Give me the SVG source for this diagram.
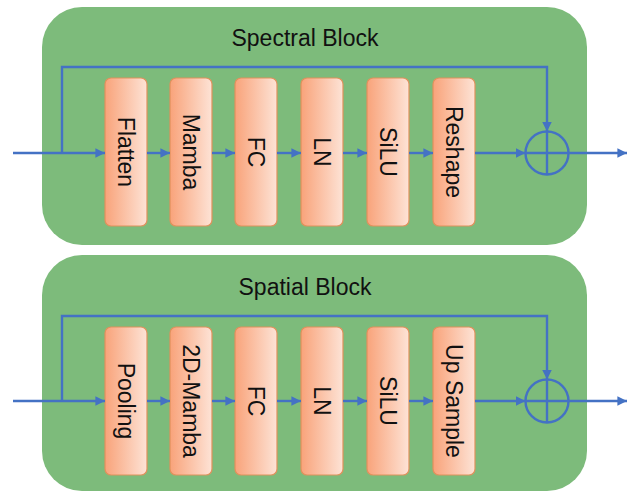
<svg xmlns="http://www.w3.org/2000/svg" width="630" height="491" viewBox="0 0 630 491">
<defs>
<linearGradient id="boxg" x1="0" y1="0" x2="1" y2="0">
<stop offset="0" stop-color="#f9a37a"/>
<stop offset="1" stop-color="#fde3d6"/>
</linearGradient>
<marker id="ah" viewBox="0 0 10 10" refX="10" refY="5" markerWidth="4" markerHeight="4" orient="auto" markerUnits="strokeWidth">
<path d="M0,0 L10,5 L0,10 z" fill="#4472c4"/>
</marker>
</defs>
<style>
.blk{fill:#7dbb7b;}
.box{fill:url(#boxg);stroke:#e0915c;stroke-width:1.2;}
.lbl{font-family:"Liberation Sans",Arial,sans-serif;font-size:23px;fill:#111;}
.ttl{font-family:"Liberation Sans",Arial,sans-serif;font-size:23px;fill:#111;}
.ln{fill:none;stroke:#4472c4;stroke-width:2.4;}
.arr{fill:none;stroke:#4472c4;stroke-width:2.4;marker-end:url(#ah);}
</style>

<g id="spectral-block">
<rect class="blk" x="42" y="7" width="545" height="238" rx="40"/>
<text class="ttl" x="305" y="46" text-anchor="middle">Spectral Block</text>
</g>
<g id="spatial-block">
<rect class="blk" x="42" y="255" width="545" height="236" rx="40"/>
<text class="ttl" x="305" y="295" text-anchor="middle">Spatial Block</text>
</g>

<g id="flatten"><rect class="box" x="105" y="78" width="42" height="148" rx="6"/><text class="lbl" transform="translate(126,152) rotate(90)" text-anchor="middle" dominant-baseline="central">Flatten</text></g>
<g id="mamba"><rect class="box" x="170" y="78" width="42" height="148" rx="6"/><text class="lbl" transform="translate(191,152) rotate(90)" text-anchor="middle" dominant-baseline="central">Mamba</text></g>
<g id="fc1"><rect class="box" x="235" y="78" width="42" height="148" rx="6"/><text class="lbl" transform="translate(256,152) rotate(90)" text-anchor="middle" dominant-baseline="central">FC</text></g>
<g id="ln1"><rect class="box" x="301" y="78" width="42" height="148" rx="6"/><text class="lbl" transform="translate(322,152) rotate(90)" text-anchor="middle" dominant-baseline="central">LN</text></g>
<g id="silu1"><rect class="box" x="367" y="78" width="42" height="148" rx="6"/><text class="lbl" transform="translate(388,152) rotate(90)" text-anchor="middle" dominant-baseline="central">SiLU</text></g>
<g id="reshape"><rect class="box" x="433" y="78" width="42" height="148" rx="6"/><text class="lbl" transform="translate(454,152) rotate(90)" text-anchor="middle" dominant-baseline="central">Reshape</text></g>
<g id="add1"><circle cx="547" cy="153" r="21.5" fill="none" stroke="#4472c4" stroke-width="2.4"/><path class="ln" d="M525.5,153 H568.5 M547,131.5 V174.5"/></g>

<g id="pooling"><rect class="box" x="105" y="327" width="42" height="148" rx="6"/><text class="lbl" transform="translate(126,401) rotate(90)" text-anchor="middle" dominant-baseline="central">Pooling</text></g>
<g id="mamba2d"><rect class="box" x="170" y="327" width="42" height="148" rx="6"/><text class="lbl" transform="translate(191,401) rotate(90)" text-anchor="middle" dominant-baseline="central">2D-Mamba</text></g>
<g id="fc2"><rect class="box" x="235" y="327" width="42" height="148" rx="6"/><text class="lbl" transform="translate(256,401) rotate(90)" text-anchor="middle" dominant-baseline="central">FC</text></g>
<g id="ln2"><rect class="box" x="301" y="327" width="42" height="148" rx="6"/><text class="lbl" transform="translate(322,401) rotate(90)" text-anchor="middle" dominant-baseline="central">LN</text></g>
<g id="silu2"><rect class="box" x="367" y="327" width="42" height="148" rx="6"/><text class="lbl" transform="translate(388,401) rotate(90)" text-anchor="middle" dominant-baseline="central">SiLU</text></g>
<g id="upsample"><rect class="box" x="433" y="327" width="42" height="148" rx="6"/><text class="lbl" transform="translate(454,401) rotate(90)" text-anchor="middle" dominant-baseline="central">Up Sample</text></g>
<g id="add2"><circle cx="547" cy="401" r="21.5" fill="none" stroke="#4472c4" stroke-width="2.4"/><path class="ln" d="M525.5,401 H568.5 M547,379.5 V422.5"/></g>

<g id="connectors">
<path class="arr" d="M13,153 H105"/>
<path class="arr" d="M62,153 V67 H547 V131.5"/>
<path class="arr" d="M147,153 H170"/>
<path class="arr" d="M212,153 H235"/>
<path class="arr" d="M277,153 H301"/>
<path class="arr" d="M343,153 H367"/>
<path class="arr" d="M409,153 H433"/>
<path class="arr" d="M475,153 H525.5"/>
<path class="arr" d="M568.5,153 H627"/>

<path class="arr" d="M13,401 H105"/>
<path class="arr" d="M62,401 V316 H547 V379.5"/>
<path class="arr" d="M147,401 H170"/>
<path class="arr" d="M212,401 H235"/>
<path class="arr" d="M277,401 H301"/>
<path class="arr" d="M343,401 H367"/>
<path class="arr" d="M409,401 H433"/>
<path class="arr" d="M475,401 H525.5"/>
<path class="arr" d="M568.5,401 H627"/>
</g>
</svg>
